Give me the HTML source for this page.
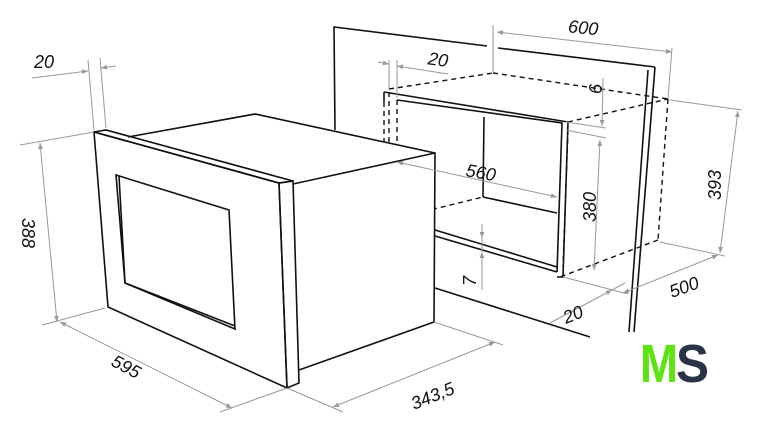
<!DOCTYPE html>
<html><head><meta charset="utf-8"><style>
html,body{margin:0;padding:0;background:#fff;}
svg{display:block}
.k{stroke:#111;stroke-width:1.6;fill:none}
.d{stroke:#111;stroke-width:1.4;fill:none;stroke-dasharray:5 4}
.g{stroke:#999;stroke-width:1;fill:none}
.t{font-family:"Liberation Sans",sans-serif;font-size:18px;font-style:italic;fill:#111}
</style></head><body>
<svg width="762" height="435" viewBox="0 0 762 435" xmlns="http://www.w3.org/2000/svg">
<defs><marker id="a" viewBox="0 0 10 10" refX="10" refY="5" markerWidth="8" markerHeight="6" orient="auto-start-reverse"><path d="M0,1 L10,5 L0,9z" fill="#999"/></marker></defs>

<!-- wall -->
<polyline class="k" points="335,130 334,27 487,46"/>
<line class="k" x1="498" y1="48" x2="655" y2="67" stroke-width="2.5"/>
<line class="k" x1="655" y1="67" x2="634" y2="332"/>
<line class="k" x1="648" y1="70" x2="629" y2="332"/>
<line class="k" x1="435" y1="288" x2="590" y2="337"/>

<!-- niche -->
<polyline class="k" points="384,92 384,102"/>
<polyline class="k" points="384,92 568,122 563,277 557,277"/>
<polyline class="k" points="397,100 562,123 557,272"/>
<line class="k" x1="484" y1="117" x2="483" y2="197"/>
<line class="k" x1="483" y1="197" x2="557" y2="213"/>
<line class="k" x1="435" y1="230" x2="557" y2="267"/>
<line class="k" x1="435" y1="236" x2="557" y2="272"/>
<line class="d" x1="397" y1="218" x2="483" y2="197"/>
<line class="d" x1="397" y1="100" x2="397" y2="218"/>
<line class="d" x1="389" y1="92" x2="389" y2="228"/>
<line class="d" x1="384" y1="102" x2="384" y2="228"/>
<line class="d" x1="384" y1="228" x2="435" y2="243"/>
<line class="d" x1="389" y1="89" x2="493" y2="73"/>
<line class="d" x1="493" y1="73" x2="668" y2="99"/>
<line class="d" x1="568" y1="122" x2="668" y2="99"/>
<line class="d" x1="668" y1="99" x2="658" y2="240"/>
<line class="d" x1="658" y1="240" x2="560" y2="277"/>
<line class="d" x1="568" y1="130" x2="563" y2="267"/>

<!-- microwave body -->
<polygon points="128,137 255,114 435,153 434,322 299,371 293,184" fill="#fff"/>
<polyline class="k" points="128,137 255,114 435,153 434,322"/>
<line class="k" x1="293" y1="184" x2="435" y2="153"/>
<line class="k" x1="299" y1="370" x2="434" y2="322"/>
<!-- front frame -->
<polygon class="k" points="94,132 106,130 293,181 279,183" fill="#fff"/>
<polygon class="k" points="279,183 293,181 299,383 287,388" fill="#fff"/>
<polygon class="k" points="94,132 279,183 287,388 108,307" fill="#fff"/>
<polygon class="k" points="116,175 229,210 235,329 125,283"/>
<polyline class="k" points="119,176 125,283 235,326"/>

<!-- dimension lines -->
<line class="g" x1="88" y1="60" x2="94" y2="130"/><line class="g" x1="100" y1="58" x2="106" y2="128"/>
<line class="g" x1="32" y1="78" x2="88" y2="71" marker-end="url(#a)"/>
<line class="g" x1="116" y1="66" x2="101" y2="68" marker-end="url(#a)"/>
<text class="t" x="34" y="68">20</text>

<line class="g" x1="20" y1="145" x2="94" y2="132"/><line class="g" x1="42" y1="325" x2="105" y2="308"/>
<line class="g" x1="40" y1="143" x2="57" y2="322" marker-start="url(#a)" marker-end="url(#a)"/>
<text class="t" transform="translate(22,218) rotate(90)">388</text>

<line class="g" x1="60" y1="322" x2="232" y2="408" marker-start="url(#a)" marker-end="url(#a)"/>
<line class="g" x1="220" y1="412" x2="287" y2="388"/>
<text class="t" transform="translate(110,365) rotate(28)">595</text>

<line class="g" x1="287" y1="388" x2="343" y2="412"/><line class="g" x1="434" y1="322" x2="503" y2="345"/>
<line class="g" x1="333" y1="407" x2="495" y2="342" marker-start="url(#a)" marker-end="url(#a)"/>
<text class="t" transform="translate(414,410) rotate(-22)">343,5</text>

<line class="g" x1="493" y1="25" x2="493" y2="72"/><line class="g" x1="672" y1="48" x2="668" y2="99"/>
<line class="g" x1="497" y1="32" x2="672" y2="52" marker-start="url(#a)" marker-end="url(#a)"/>
<text class="t" x="568" y="34" transform="rotate(6 585 30)">600</text>

<line class="g" x1="389" y1="60" x2="389" y2="90"/><line class="g" x1="397" y1="60" x2="397" y2="98"/>
<line class="g" x1="378" y1="62" x2="389" y2="64" marker-end="url(#a)"/>
<line class="g" x1="448" y1="74" x2="397" y2="66" marker-end="url(#a)"/>
<text class="t" x="428" y="66" transform="rotate(8 440 60)">20</text>

<line class="g" x1="566" y1="122" x2="606" y2="128"/><line class="g" x1="566" y1="130" x2="606" y2="138"/>
<line class="g" x1="603" y1="78" x2="602" y2="126" marker-end="url(#a)"/>
<text class="t" transform="translate(602,94) rotate(-90)">6</text>
<line class="g" x1="600" y1="140" x2="594" y2="270" marker-start="url(#a)" marker-end="url(#a)"/>
<text class="t" transform="translate(596,222) rotate(-90)">380</text>

<line class="g" x1="397" y1="162" x2="557" y2="197" marker-start="url(#a)" marker-end="url(#a)"/>
<text class="t" transform="translate(465,176) rotate(10)">560</text>

<line class="g" x1="670" y1="100" x2="742" y2="110"/><line class="g" x1="660" y1="242" x2="725" y2="256"/>
<line class="g" x1="738" y1="111" x2="720" y2="253" marker-start="url(#a)" marker-end="url(#a)"/>
<text class="t" transform="translate(721,200) rotate(-90)">393</text>

<line class="g" x1="482" y1="224" x2="482" y2="290" />
<line class="g" x1="482" y1="224" x2="482" y2="238" marker-end="url(#a)"/>
<line class="g" x1="482" y1="290" x2="482" y2="252" marker-end="url(#a)"/>
<text class="t" transform="translate(476,286) rotate(-90)">7</text>

<line class="g" x1="563" y1="277" x2="628" y2="294"/>
<line class="g" x1="550" y1="323" x2="612" y2="290" marker-end="url(#a)"/>
<line class="g" x1="625" y1="283" x2="612" y2="290" />
<text class="t" transform="translate(566,324) rotate(-22)">20</text>
<line class="g" x1="623" y1="293" x2="718" y2="255" marker-start="url(#a)" marker-end="url(#a)"/>
<text class="t" transform="translate(672,298) rotate(-20)">500</text>

<!-- logo -->
<text x="640" y="382" font-family="Liberation Sans,sans-serif" font-weight="bold" font-size="54" fill="#5ce40e" textLength="38" lengthAdjust="spacingAndGlyphs">M</text>
<text x="676" y="382" font-family="Liberation Sans,sans-serif" font-weight="bold" font-size="54" fill="#2b3445" textLength="33" lengthAdjust="spacingAndGlyphs">S</text>
</svg>
</body></html>
